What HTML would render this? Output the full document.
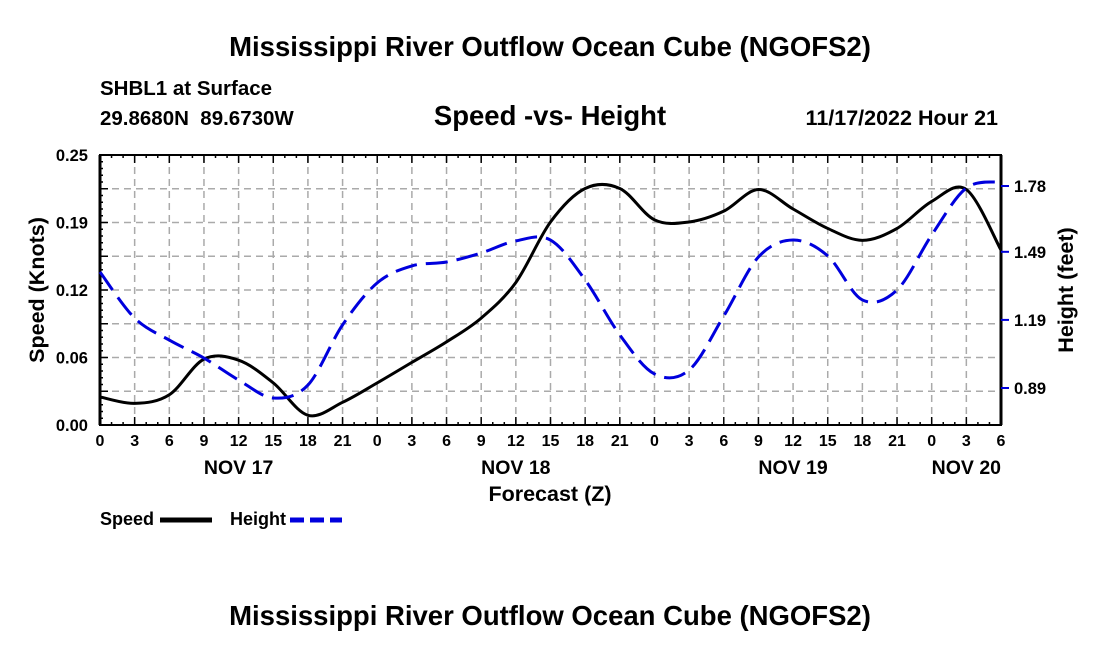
<!DOCTYPE html>
<html><head><meta charset="utf-8"><style>
body{margin:0;background:#fff;width:1100px;height:650px;overflow:hidden;font-family:"Liberation Sans",sans-serif}
svg text{font-family:"Liberation Sans",sans-serif;font-weight:bold;fill:#000}
</style></head><body>
<svg id="chart" width="1100" height="650">
<text x="550" y="56" font-size="27.5" text-anchor="middle">Mississippi River Outflow Ocean Cube (NGOFS2)</text>
<text x="100" y="95" font-size="20.5">SHBL1 at Surface</text>
<text x="100" y="125" font-size="20.5" xml:space="preserve">29.8680N  89.6730W</text>
<text x="550" y="125" font-size="27.5" text-anchor="middle">Speed -vs- Height</text>
<text x="998" y="125" font-size="21.5" text-anchor="end">11/17/2022 Hour 21</text>
<g id="grid"></g>
<g id="axes"></g>
<g id="series"></g>
<text transform="translate(44,290) rotate(-90)" font-size="21.5" text-anchor="middle">Speed (Knots)</text>
<text transform="translate(1073,290) rotate(-90)" font-size="21.5" text-anchor="middle">Height (feet)</text>
<text x="550" y="501" font-size="21.5" text-anchor="middle">Forecast (Z)</text>
<g><text x="100" y="525" font-size="18">Speed</text><line x1="160" y1="520" x2="212" y2="520" stroke="#000" stroke-width="5"/></g>
<g><text x="230" y="525" font-size="18">Height</text><line x1="290" y1="520" x2="342" y2="520" stroke="#0000dd" stroke-width="5" stroke-dasharray="14,6"/></g>
<text x="550" y="625" font-size="27.5" text-anchor="middle">Mississippi River Outflow Ocean Cube (NGOFS2)</text>
</svg>
<script>
const hours=[0,3,6,9,12,15,18,21,24,27,30,33,36,39,42,45,48,51,54,57,60,63,66,69,72,75,78];
const speed=[0.026,0.020,0.028,0.061,0.060,0.039,0.009,0.021,0.039,0.058,0.077,0.099,0.132,0.188,0.219,0.219,0.190,0.188,0.198,0.218,0.200,0.182,0.171,0.182,0.207,0.218,0.162];
const height=[1.401,1.198,1.101,1.022,0.925,0.846,0.903,1.168,1.353,1.428,1.445,1.485,1.538,1.542,1.366,1.124,0.952,0.969,1.207,1.467,1.542,1.472,1.278,1.322,1.564,1.771,1.798];
const speedTicks=[0,0.0625,0.125,0.1875,0.25];
const speedTickLabels=["0.00","0.06","0.12","0.19","0.25"];
const heightTicks=[0.89,1.19,1.49,1.78];
const heightTickLabels=["0.89","1.19","1.49","1.78"];
const dayLabels=["NOV 17","NOV 18","NOV 19","NOV 20"];
const dayHours=[12,36,60,75];

const X0=100,X1=1001,YT=155,YB=425,HMAX=78;
const xs=h=>X0+(X1-X0)*h/HMAX;
const ys=v=>YB-(YB-YT)*v/0.25;
const yh=v=>388-(v-0.89)/0.89*202;
const NS="http://www.w3.org/2000/svg";
function mk(tag,attrs,parent){const e=document.createElementNS(NS,tag);for(const k in attrs)e.setAttribute(k,attrs[k]);parent.appendChild(e);return e;}
const grid=document.getElementById('grid'),axes=document.getElementById('axes'),series=document.getElementById('series');
for(let i=1;i<8;i++){const y=YT+(YB-YT)*i/8;
 const l=mk('line',{x1:X0,x2:X1,y1:y,y2:y,stroke:'#aaa','stroke-width':1.5,'stroke-dasharray':'7,5'},grid);
 
 }
for(let h=3;h<HMAX;h+=3){const x=xs(h);
 const l=mk('line',{x1:x,x2:x,y1:YT,y2:YB,stroke:'#aaa','stroke-width':1.5,'stroke-dasharray':'7,5'},grid);
 
 }
mk('rect',{x:X0,y:YT,width:X1-X0,height:YB-YT,fill:'none',stroke:'#000','stroke-width':2},axes);
mk('line',{x1:X1,x2:X1,y1:YT,y2:YB,stroke:'#000','stroke-width':3},axes);
mk('line',{x1:X0,x2:X0,y1:YT,y2:YB,stroke:'#000','stroke-width':3},axes);
for(let i=0;i<=40;i++){const y=YT+(YB-YT)*i/40;mk('line',{x1:X0,x2:X0+(i%5?3:8),y1:y,y2:y,stroke:'#000','stroke-width':1.5},axes);}
for(let h=0;h<=HMAX;h++){const x=xs(h);const L=h%3?3:8;
 mk('line',{x1:x,x2:x,y1:YB,y2:YB-L,stroke:'#000','stroke-width':1.5},axes);
 mk('line',{x1:x,x2:x,y1:YT,y2:YT+L,stroke:'#000','stroke-width':1.5},axes);}
speedTicks.forEach((v,i)=>{const t=mk('text',{x:X0-12,y:ys(v)+6,'font-size':16.5,'text-anchor':'end'},axes);t.textContent=speedTickLabels[i];
 
 });
heightTicks.forEach((v,i)=>{const y=yh(v);mk('line',{x1:X1,x2:X1+8,y1:y,y2:y,stroke:'#0000dd','stroke-width':2},axes);
 const t=mk('text',{x:X1+13,y:y+6,'font-size':16.5},axes);t.textContent=heightTickLabels[i];
 
 });
for(let h=0;h<=HMAX;h+=3){const t=mk('text',{x:xs(h),y:YB+21,'font-size':16,'text-anchor':'middle'},axes);t.textContent=String(h%24);
 
 }
dayLabels.forEach((d,i)=>{const t=mk('text',{x:xs(dayHours[i]),y:YB+49,'font-size':19.5,'text-anchor':'middle'},axes);t.textContent=d;
 
 });
function smooth(pts){let d=`M${pts[0][0]},${pts[0][1]}`;
 for(let i=0;i<pts.length-1;i++){const p0=pts[i-1]||pts[i],p1=pts[i],p2=pts[i+1],p3=pts[i+2]||p2;
  d+=` C${p1[0]+(p2[0]-p0[0])/6},${p1[1]+(p2[1]-p0[1])/6} ${p2[0]-(p3[0]-p1[0])/6},${p2[1]-(p3[1]-p1[1])/6} ${p2[0]},${p2[1]}`;}
 return d;}
const sp=mk('path',{d:smooth(hours.map((h,i)=>[xs(h),ys(speed[i])])),fill:'none',stroke:'#000','stroke-width':3},series);


const hp=mk('path',{d:smooth(hours.map((h,i)=>[xs(h),yh(height[i])])),fill:'none',stroke:'#0000dd','stroke-width':3,'stroke-dasharray':'22,9'},series);


</script>
</body></html>
